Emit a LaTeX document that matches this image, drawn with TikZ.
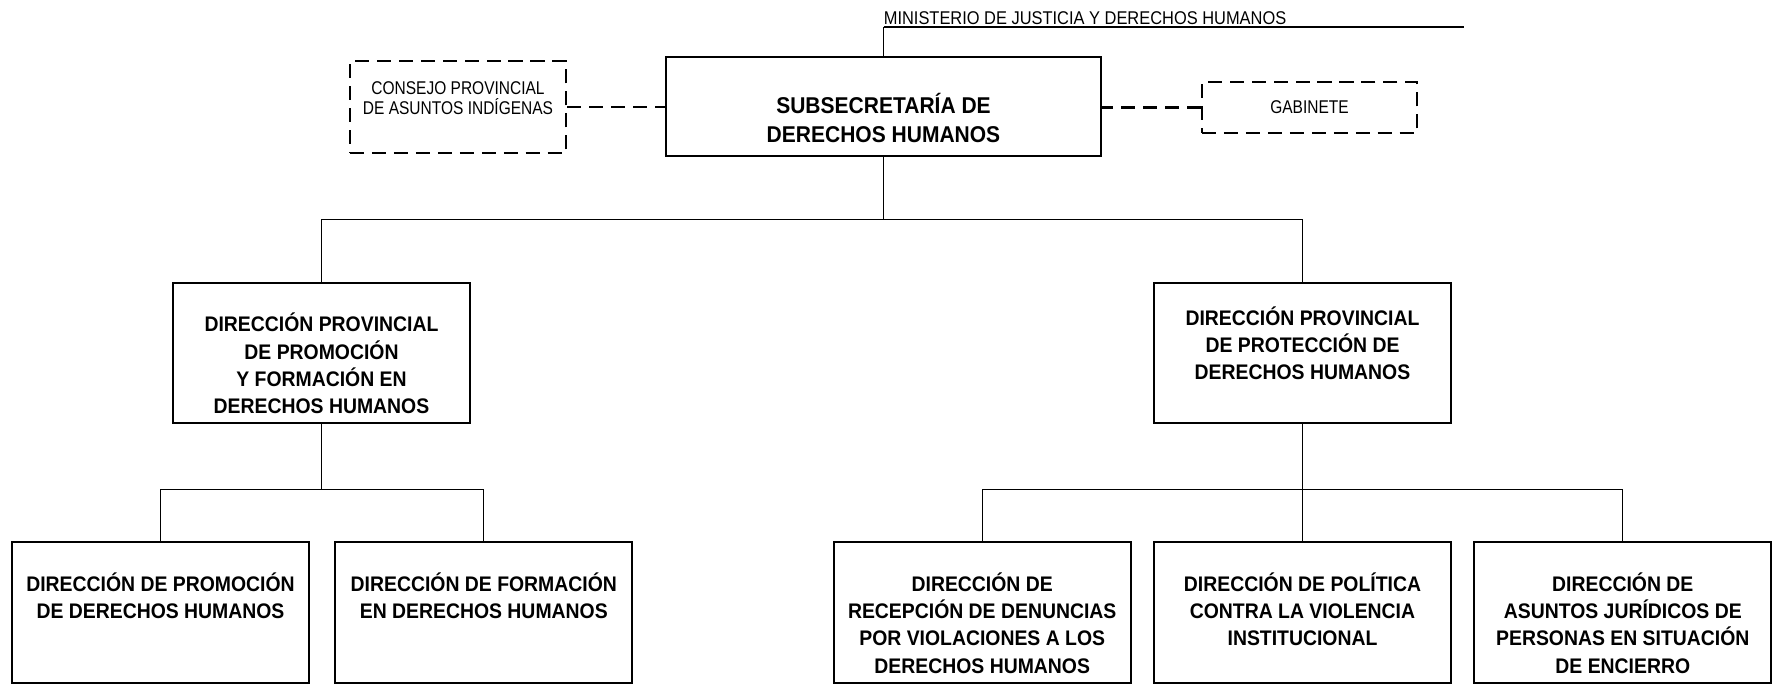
\documentclass[tikz,border=0pt]{standalone}
\usepackage{fontspec}
\setmainfont{Liberation Sans}
\newfontfamily\boldface[FakeStretch=0.92]{Liberation Sans}
\newfontfamily\plainface[FakeStretch=0.84]{Liberation Sans}
\newfontfamily\headface[FakeStretch=0.89]{Liberation Sans}
\usetikzlibrary{positioning}
\tikzset{
	unit/.style={
		draw,
		line width=1.3pt,
		minimum width=5.94cm,
		minimum height=2.81cm,
		inner sep=0pt
	},
	advisory/.style={
		draw,
		line width=1.4pt,
		dash pattern=on 8pt off 4.5pt,
		inner sep=0pt
	},
	unitlabel/.style={
		anchor=north,
		align=center,
		inner sep=0pt,
		font={\boldface\bfseries\fontsize{12}{15.6}\selectfont}
	},
	notelabel/.style={
		align=center,
		inner sep=0pt,
		font={\plainface\fontsize{10.5}{11.4}\selectfont}
	},
	link/.style={line width=0.6pt},
	dlink/.style={line width=1.4pt, dash pattern=on 8pt off 4.5pt}
}

\begin{document}
\begin{tikzpicture}
\useasboundingbox (0,0) rectangle (35.5,-13.76);

% ministry line
\coordinate (min) at (17.67,-0.54);
\coordinate (minend) at (29.28,-0.54);
\node(mintext)[notelabel, font={\headface\fontsize{10.5}{11.4}\selectfont}, anchor=south west, inner ysep=1pt] at (min) {MINISTERIO DE JUSTICIA Y DERECHOS HUMANOS};

% subsecretaria
\node(sub)[unit, minimum width=8.7cm, minimum height=1.98cm] at (17.67,-2.13) {};
\node(subtext)[unitlabel, font={\boldface\bfseries\fontsize{13}{16.5}\selectfont}] at ([yshift=-0.74cm]sub.north) {SUBSECRETARÍA DE\\DERECHOS HUMANOS};

\node(cons)[advisory, minimum width=4.32cm, minimum height=1.84cm] at (9.16,-2.14) {};
\node(constext)[notelabel] at (9.16,-1.96) {CONSEJO PROVINCIAL\\DE ASUNTOS INDÍGENAS};
\node(gab)[advisory, notelabel, minimum width=4.3cm, minimum height=1.02cm] at (26.19,-2.15) {GABINETE};

% direcciones provinciales
\node(dpp)[unit] at (6.43,-7.06) {};
\node(dpptext)[unitlabel] at ([yshift=-0.62cm]dpp.north) {DIRECCIÓN PROVINCIAL\\DE PROMOCIÓN\\Y FORMACIÓN EN\\DERECHOS HUMANOS};
\node(dpr)[unit] at (26.05,-7.06) {};
\node(dprtext)[unitlabel] at ([yshift=-0.49cm]dpr.north) {DIRECCIÓN PROVINCIAL\\DE PROTECCIÓN DE\\DERECHOS HUMANOS};

% direcciones
\node(prom)[unit] at (3.21,-12.25) {};
\node(form)[unit, right=0.48cm of prom] {};
\node(polit)[unit] at (26.05,-12.25) {};
\node(recep)[unit, left=0.42cm of polit] {};
\node(jurid)[unit, right=0.42cm of polit] {};

\node(promtext)[unitlabel] at ([yshift=-0.62cm]prom.north) {DIRECCIÓN DE PROMOCIÓN\\DE DERECHOS HUMANOS};
\node(formtext)[unitlabel] at ([yshift=-0.62cm]form.north) {DIRECCIÓN DE FORMACIÓN\\EN DERECHOS HUMANOS};
\node(receptext)[unitlabel] at ([yshift=-0.62cm]recep.north) {DIRECCIÓN DE\\RECEPCIÓN DE DENUNCIAS\\POR VIOLACIONES A LOS\\DERECHOS HUMANOS};
\node(polittext)[unitlabel] at ([yshift=-0.62cm]polit.north) {DIRECCIÓN DE POLÍTICA\\CONTRA LA VIOLENCIA\\INSTITUCIONAL};
\node(juridtext)[unitlabel] at ([yshift=-0.62cm]jurid.north) {DIRECCIÓN DE\\ASUNTOS JURÍDICOS DE\\PERSONAS EN SITUACIÓN\\DE ENCIERRO};

% connectors
\draw[link] (min) -- (minend);
\draw[link] (min) -- (sub.north);
\draw[dlink] (cons.east) -- (cons.east -| sub.west);
\draw[dlink] (gab.west) -- (gab.west -| sub.east);

\draw[link] (sub.south) -- ++(0,-1.25) coordinate (bus1);
\draw[link] (dpp.north) |- (bus1) -| (dpr.north);

\draw[link] (dpp.south) -- ++(0,-1.3) coordinate (bus2);
\draw[link] (prom.north) |- (bus2) -| (form.north);

\draw[link] (dpr.south) -- ++(0,-1.3) coordinate (bus3);
\draw[link] (recep.north) |- (bus3) -| (jurid.north);
\draw[link] (bus3) -- (polit.north);

\end{tikzpicture}
\end{document}
